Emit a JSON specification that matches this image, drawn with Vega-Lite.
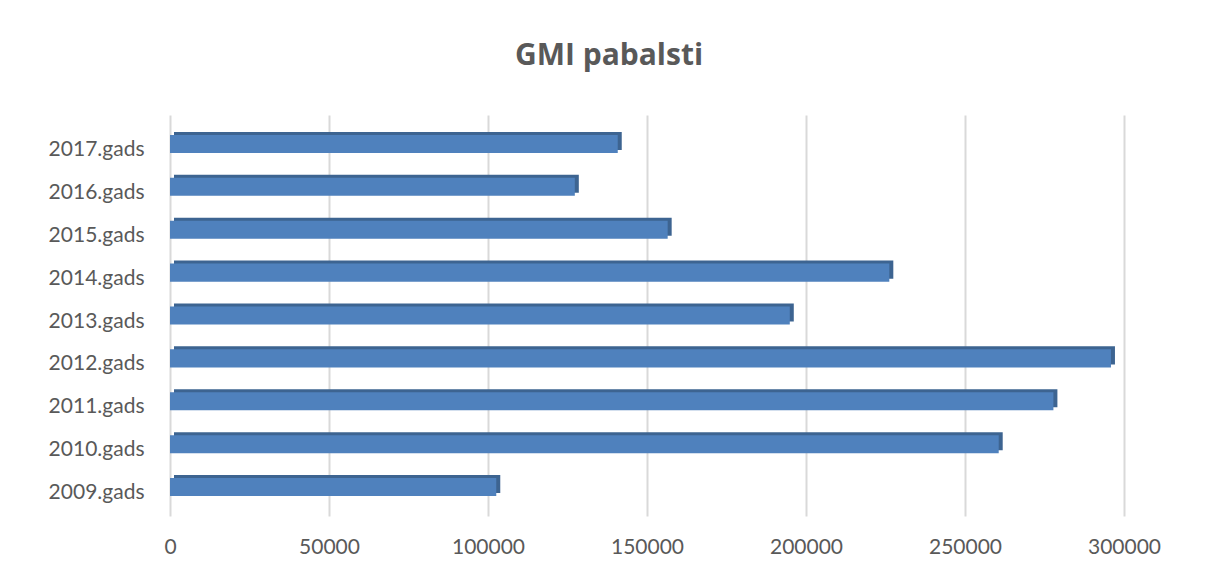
{
  "$schema": "https://vega.github.io/schema/vega-lite/v6.json",
  "autosize": {"type": "none"},
  "width": 954,
  "height": 401,
  "padding": {"left": 170, "top": 115, "right": 90, "bottom": 57},
  "background": "white",
  "title": {
    "text": "GMI pabalsti",
    "font": "Open Sans",
    "fontSize": 30,
    "fontWeight": "bold",
    "color": "#595959",
    "anchor": "middle",
    "dx": -38,
    "offset": 44
  },
  "data": {
    "values": [
      {"gads": "2009.gads", "summa": 102600},
      {"gads": "2010.gads", "summa": 260600},
      {"gads": "2011.gads", "summa": 277800},
      {"gads": "2012.gads", "summa": 295900},
      {"gads": "2013.gads", "summa": 194900},
      {"gads": "2014.gads", "summa": 226200},
      {"gads": "2015.gads", "summa": 156500},
      {"gads": "2016.gads", "summa": 127300},
      {"gads": "2017.gads", "summa": 140800}
    ]
  },
  "config": {
    "view": {"stroke": null},
    "axis": {
      "labelFont": "Lato",
      "labelFontSize": 21,
      "labelColor": "#595959",
      "domain": false,
      "ticks": false,
      "title": null
    }
  },
  "encoding": {
    "y": {
      "field": "gads",
      "type": "nominal",
      "sort": "descending",
      "scale": {"paddingInner": 0.58, "paddingOuter": 0.466},
      "axis": {"grid": false, "labelPadding": 26, "labelOffset": 6}
    },
    "x": {
      "field": "summa",
      "type": "quantitative",
      "scale": {"domain": [0, 300000], "nice": false},
      "axis": {
        "values": [0, 50000, 100000, 150000, 200000, 250000, 300000],
        "format": "d",
        "grid": true,
        "gridColor": "#d9d9d9",
        "gridWidth": 2,
        "labelPadding": 20,
        "labelFlush": false,
        "labelOverlap": false,
        "labelBound": false
      }
    }
  },
  "layer": [
    {
      "mark": {"type": "bar", "color": "#3d6491", "xOffset": 4, "x2Offset": 4, "yOffset": -3, "cornerRadius": 0}
    },
    {
      "mark": {"type": "bar", "color": "#4f81bd"}
    }
  ]
}
